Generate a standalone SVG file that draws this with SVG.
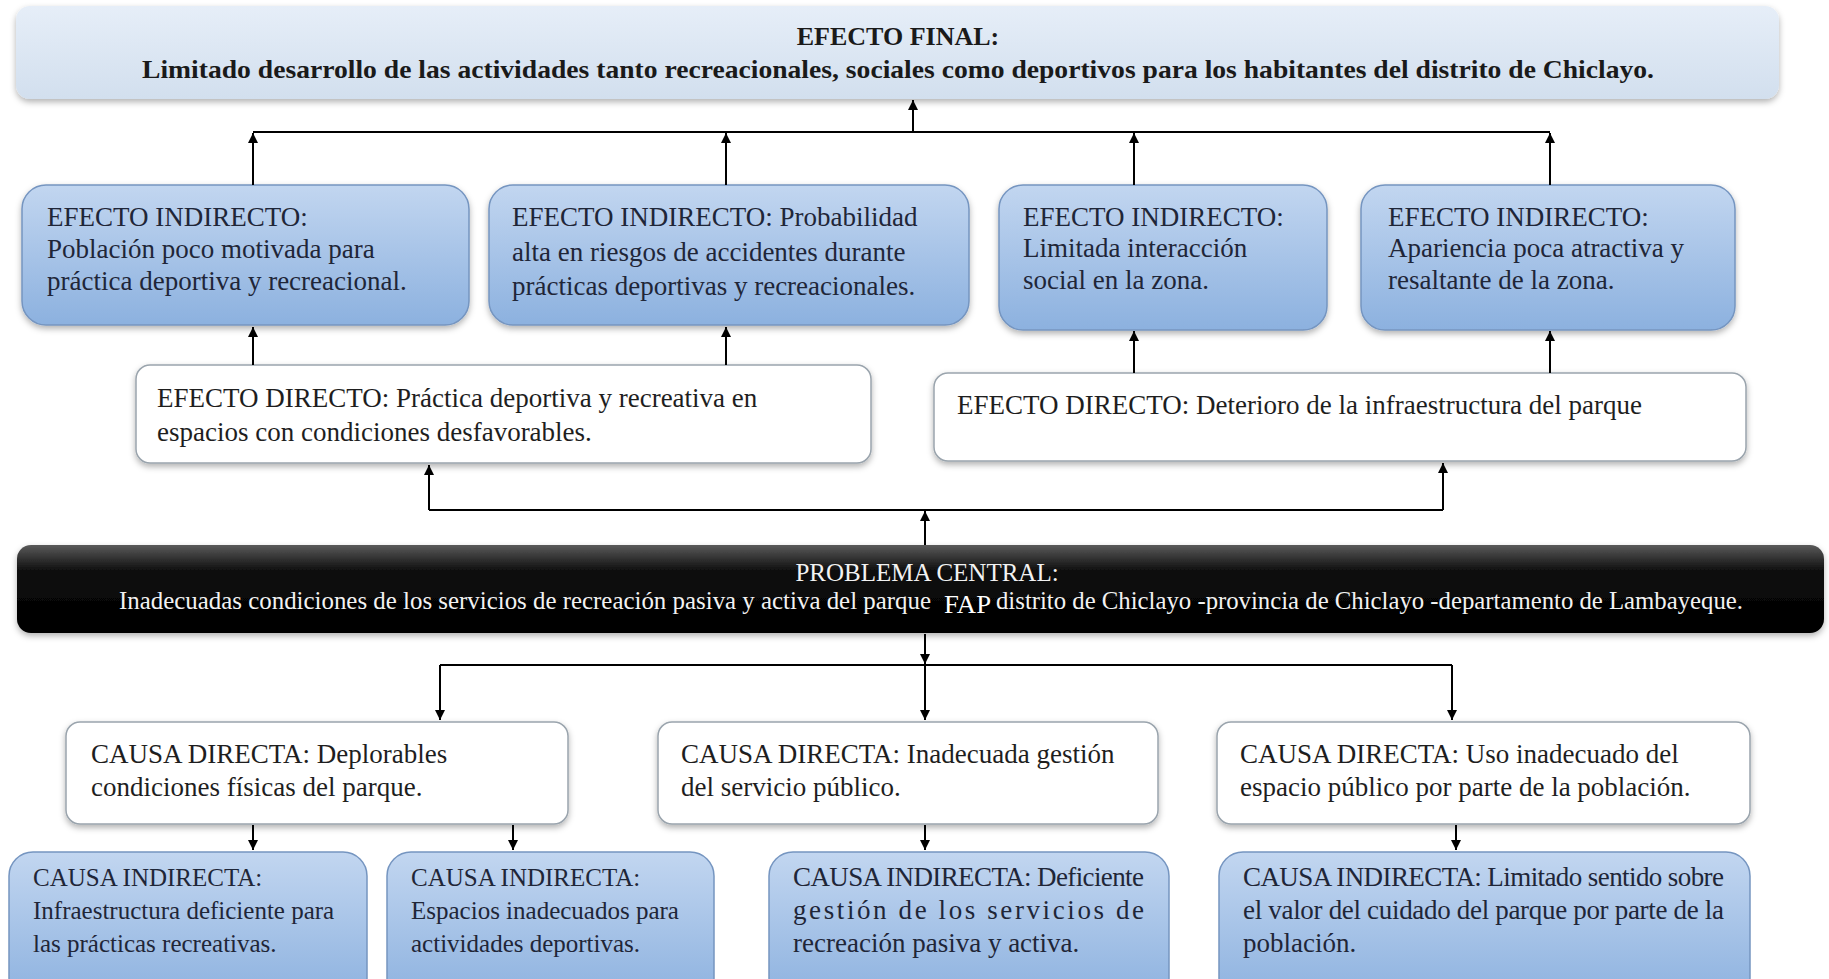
<svg xmlns="http://www.w3.org/2000/svg" width="1829" height="979" viewBox="0 0 1829 979">
<defs>
<linearGradient id="gBlue" x1="0" y1="0" x2="0" y2="1">
<stop offset="0" stop-color="#c2d6f0"/>
<stop offset="1" stop-color="#8cb1df"/>
</linearGradient>
<linearGradient id="gFinal" x1="0" y1="0" x2="0" y2="1">
<stop offset="0" stop-color="#e6eef8"/>
<stop offset="1" stop-color="#d2dfee"/>
</linearGradient>
<linearGradient id="gBlack" x1="0" y1="0" x2="0" y2="1">
<stop offset="0" stop-color="#5a5a5a"/>
<stop offset="0.3" stop-color="#0c0c0c"/>
<stop offset="1" stop-color="#000"/>
</linearGradient>
<filter id="sh" x="-5%" y="-20%" width="110%" height="150%">
<feDropShadow dx="0" dy="3" stdDeviation="3" flood-color="#000" flood-opacity="0.3"/>
</filter>
<marker id="ah" viewBox="0 0 10 10" refX="10" refY="5" markerWidth="10" markerHeight="12" markerUnits="userSpaceOnUse" orient="auto">
<path d="M0,0 L10,5 L0,10 z" fill="#000"/>
</marker>
</defs>
<style>
.t{font-family:"Liberation Serif","Times New Roman",serif;font-size:27px;fill:#1e1e1e}
.n{fill:#1f2638}
.s{font-size:25px}
.b{font-family:"Liberation Serif","Times New Roman",serif;font-size:26px;font-weight:bold;fill:#1a1a1a}
.w{font-family:"Liberation Serif","Times New Roman",serif;font-size:25px;fill:#f2f2f2}
.blue{fill:url(#gBlue);stroke:#7595c0;stroke-width:1.5}
.white{fill:#fff;stroke:#9aa4ad;stroke-width:1.5}
.c{fill:none;stroke:#000;stroke-width:2}
</style>
<rect width="1829" height="979" fill="#fff"/>

<g id="efecto-final">
<rect x="16" y="6" width="1763" height="93" rx="14" fill="url(#gFinal)" filter="url(#sh)"/>
<text class="b" x="898" y="45" text-anchor="middle">EFECTO FINAL:</text>
<text class="b" x="142" y="78" textLength="1512" lengthAdjust="spacingAndGlyphs">Limitado desarrollo de las actividades tanto recreacionales, sociales como deportivos para los habitantes del distrito de Chiclayo.</text>
</g>

<g id="efecto-indirecto-1">
<rect class="blue" x="22" y="185" width="447" height="140" rx="24" filter="url(#sh)"/>
<text class="t n" x="47" y="226">EFECTO INDIRECTO:</text>
<text class="t n" x="47" y="258">Población poco motivada para</text>
<text class="t n" x="47" y="290">práctica deportiva y recreacional.</text>
</g>
<g id="efecto-indirecto-2">
<rect class="blue" x="489" y="185" width="480" height="140" rx="24" filter="url(#sh)"/>
<text class="t n" x="512" y="226">EFECTO INDIRECTO: Probabilidad</text>
<text class="t n" x="512" y="261">alta en riesgos de accidentes durante</text>
<text class="t n" x="512" y="295">prácticas deportivas y recreacionales.</text>
</g>
<g id="efecto-indirecto-3">
<rect class="blue" x="999" y="185" width="328" height="145" rx="24" filter="url(#sh)"/>
<text class="t n" x="1023" y="226">EFECTO INDIRECTO:</text>
<text class="t n" x="1023" y="257">Limitada interacción</text>
<text class="t n" x="1023" y="289">social en la zona.</text>
</g>
<g id="efecto-indirecto-4">
<rect class="blue" x="1361" y="185" width="374" height="145" rx="24" filter="url(#sh)"/>
<text class="t n" x="1388" y="226">EFECTO INDIRECTO:</text>
<text class="t n" x="1388" y="257">Apariencia poca atractiva y</text>
<text class="t n" x="1388" y="289">resaltante de la zona.</text>
</g>

<g id="efecto-directo-1">
<rect class="white" x="136" y="365" width="735" height="98" rx="14" filter="url(#sh)"/>
<text class="t" x="157" y="407">EFECTO DIRECTO: Práctica deportiva y recreativa en</text>
<text class="t" x="157" y="441">espacios con condiciones desfavorables.</text>
</g>
<g id="efecto-directo-2">
<rect class="white" x="934" y="373" width="812" height="88" rx="14" filter="url(#sh)"/>
<text class="t" x="957" y="414">EFECTO DIRECTO: Deterioro de la infraestructura del parque</text>
</g>

<g id="problema-central">
<rect x="17" y="545" width="1807" height="88" rx="14" fill="url(#gBlack)" filter="url(#sh)"/>
<text class="w" x="927" y="581" text-anchor="middle" font-size="26">PROBLEMA CENTRAL:</text>
<text class="w" x="119" y="609" textLength="812" lengthAdjust="spacingAndGlyphs">Inadecuadas  condiciones  de los servicios  de recreación  pasiva y activa  del parque</text>
<text x="944" y="613" font-family="'Liberation Serif',serif" font-size="25" fill="#fff" textLength="47" lengthAdjust="spacingAndGlyphs">FAP</text>
<text class="w" x="996" y="609" textLength="747" lengthAdjust="spacingAndGlyphs">distrito  de Chiclayo  -provincia  de Chiclayo  -departamento  de Lambayeque.</text>
</g>

<g id="causa-directa-1">
<rect class="white" x="66" y="722" width="502" height="102" rx="14" filter="url(#sh)"/>
<text class="t" x="91" y="763">CAUSA DIRECTA: Deplorables</text>
<text class="t" x="91" y="796">condiciones físicas del parque.</text>
</g>
<g id="causa-directa-2">
<rect class="white" x="658" y="722" width="500" height="102" rx="14" filter="url(#sh)"/>
<text class="t" x="681" y="763">CAUSA DIRECTA: Inadecuada gestión</text>
<text class="t" x="681" y="796">del servicio público.</text>
</g>
<g id="causa-directa-3">
<rect class="white" x="1217" y="722" width="533" height="102" rx="14" filter="url(#sh)"/>
<text class="t" x="1240" y="763">CAUSA DIRECTA: Uso inadecuado del</text>
<text class="t" x="1240" y="796">espacio público por parte de la población.</text>
</g>

<g id="causa-indirecta-1">
<rect class="blue" x="9" y="852" width="358" height="150" rx="24"/>
<text class="t n s" x="33" y="886">CAUSA INDIRECTA:</text>
<text class="t n s" x="33" y="919">Infraestructura deficiente para</text>
<text class="t n s" x="33" y="952">las prácticas recreativas.</text>
</g>
<g id="causa-indirecta-2">
<rect class="blue" x="387" y="852" width="327" height="150" rx="24"/>
<text class="t n s" x="411" y="886">CAUSA INDIRECTA:</text>
<text class="t n s" x="411" y="919">Espacios inadecuados para</text>
<text class="t n s" x="411" y="952">actividades deportivas.</text>
</g>
<g id="causa-indirecta-3">
<rect class="blue" x="769" y="852" width="400" height="150" rx="24"/>
<text class="t n" x="793" y="886" textLength="351" lengthAdjust="spacing">CAUSA INDIRECTA: Deficiente</text>
<text class="t n" x="793" y="919" textLength="351" lengthAdjust="spacing">gestión de los servicios de</text>
<text class="t n" x="793" y="952">recreación pasiva y activa.</text>
</g>
<g id="causa-indirecta-4">
<rect class="blue" x="1219" y="852" width="531" height="150" rx="24"/>
<text class="t n" x="1243" y="886" textLength="481" lengthAdjust="spacing">CAUSA INDIRECTA: Limitado sentido sobre</text>
<text class="t n" x="1243" y="919" textLength="481" lengthAdjust="spacing">el valor del cuidado del parque por parte de la</text>
<text class="t n" x="1243" y="952">población.</text>
</g>

<g id="connectors">
<path class="c" d="M253 132 H1550"/>
<path class="c" d="M913 132 V100" marker-end="url(#ah)"/>
<path class="c" d="M253 185 V133" marker-end="url(#ah)"/>
<path class="c" d="M726 185 V133" marker-end="url(#ah)"/>
<path class="c" d="M1134 185 V133" marker-end="url(#ah)"/>
<path class="c" d="M1550 185 V133" marker-end="url(#ah)"/>
<path class="c" d="M253 365 V327" marker-end="url(#ah)"/>
<path class="c" d="M726 365 V327" marker-end="url(#ah)"/>
<path class="c" d="M1134 373 V331" marker-end="url(#ah)"/>
<path class="c" d="M1550 373 V331" marker-end="url(#ah)"/>
<path class="c" d="M925 545 V511" marker-end="url(#ah)"/>
<path class="c" d="M429 510 H1443"/>
<path class="c" d="M429 510 V465" marker-end="url(#ah)"/>
<path class="c" d="M1443 510 V463" marker-end="url(#ah)"/>
<path class="c" d="M925 634 V664" marker-end="url(#ah)"/>
<path class="c" d="M440 665 H1452"/>
<path class="c" d="M925 665 V720" marker-end="url(#ah)"/>
<path class="c" d="M440 665 V720" marker-end="url(#ah)"/>
<path class="c" d="M1452 665 V720" marker-end="url(#ah)"/>
<path class="c" d="M253 825 V850" marker-end="url(#ah)"/>
<path class="c" d="M513 825 V850" marker-end="url(#ah)"/>
<path class="c" d="M925 825 V850" marker-end="url(#ah)"/>
<path class="c" d="M1456 825 V850" marker-end="url(#ah)"/>
</g>
</svg>
